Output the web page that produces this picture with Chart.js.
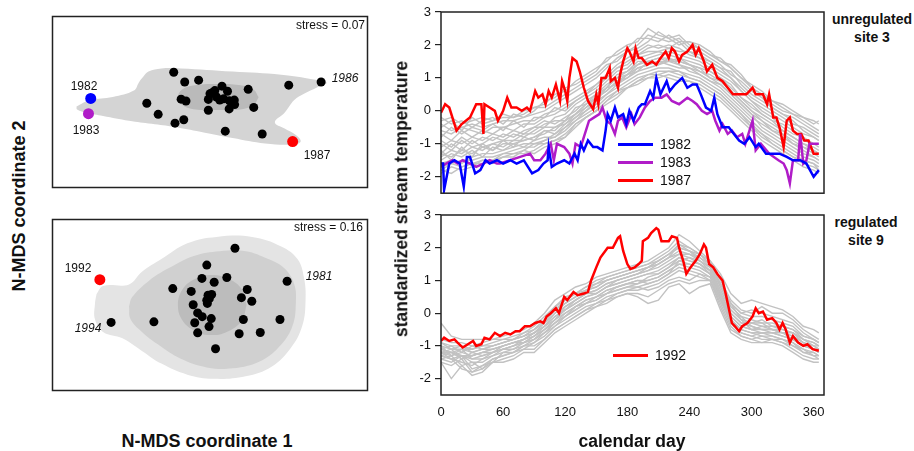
<!DOCTYPE html>
<html>
<head>
<meta charset="utf-8">
<script src="https://cdn.jsdelivr.net/npm/chart.js@4.4.1/dist/chart.umd.min.js"></script>
<style>
  body { margin: 0; background: #fff; }
  #fig { position: relative; width: 914px; height: 451px; overflow: hidden; font-family: "Liberation Sans", Arial, sans-serif; color: #111; }
  #fig canvas { position: absolute; }
  .t { position: absolute; white-space: nowrap; line-height: 1; transform: translate(-50%, -50%); }
  .b { font-weight: bold; }
  .v { transform: translate(-50%, -50%) rotate(-90deg); }
  .r { transform: translate(-100%, -50%); }
  .i { font-style: italic; }
  .leg { position: absolute; font-size: 14px; line-height: 1; }
  .leg div { position: absolute; white-space: nowrap; }
  .leg span { position: absolute; height: 3px; }
</style>
</head>
<body>
<div id="fig">
  <canvas id="mds3" width="326" height="182" style="left:47px;top:11px"></canvas>
  <canvas id="mds9" width="326" height="182" style="left:47px;top:214px"></canvas>
  <canvas id="site3" width="450" height="205" style="left:380px;top:0px"></canvas>
  <canvas id="site9" width="450" height="230" style="left:380px;top:203px"></canvas>

  <div class="t b v" style="left:19px;top:206px;font-size:18px">N-MDS coordinate 2</div>
  <div class="t b" style="left:207px;top:441px;font-size:18px">N-MDS coordinate 1</div>
  <div class="t b v" style="left:402px;top:199px;font-size:17.5px">standardized stream temperature</div>
  <div class="t b" style="left:632px;top:442px;font-size:17.5px">calendar day</div>

  <div class="t b" style="left:872px;top:19px;font-size:14px">unregulated</div>
  <div class="t b" style="left:872px;top:37px;font-size:14px">site 3</div>
  <div class="t b" style="left:866px;top:222px;font-size:14px">regulated</div>
  <div class="t b" style="left:866px;top:240px;font-size:14px">site 9</div>

  <div class="t r" style="left:365px;top:25px;font-size:12px">stress = 0.07</div>
  <div class="t r" style="left:363px;top:227px;font-size:12px">stress = 0.16</div>

  <div class="t" style="left:84px;top:86px;font-size:12px">1982</div>
  <div class="t" style="left:86px;top:130px;font-size:12px">1983</div>
  <div class="t" style="left:317px;top:155px;font-size:12px">1987</div>
  <div class="t i" style="left:345px;top:78px;font-size:12px">1986</div>
  <div class="t" style="left:78px;top:268px;font-size:12px">1992</div>
  <div class="t i" style="left:88px;top:328px;font-size:12px">1994</div>
  <div class="t i" style="left:319px;top:276px;font-size:12px">1981</div>

  <div class="leg" id="leg3" style="left:618px;top:144px"></div>
  <div class="leg" id="leg9" style="left:613px;top:355px"></div>
</div>

<script>
// ---- N-MDS ordination, site 3 (unregulated) ----
const site3Years = [
  [124.7, 122.3], [136, 112], [150.3, 114], [174.3, 107.7], [164.7, 101],
  [180, 102.3], [201.3, 104.3], [243, 108.7], [97, 89.7], [132.3, 94],
  [137.3, 92], [160.3, 93.7], [168.7, 96.3], [172, 93], [176, 94.3],
  [182, 92.3], [187, 93], [187.3, 88.3], [181.7, 83.7], [160.3, 82.3],
  [207, 85.3], [108.7, 78], [126, 68.7], [135, 72.3], [177.7, 60.3],
  [215.7, 57.3], [167, 103], [162, 99.7], [276.3, 112]
];
const site3Year1982 = [39.3, 94.7];
const site3Year1983 = [37, 78.7];
const site3Year1987 = [247, 49.3];
const site3OuterHull = [
  [24.7, 86.3], [38.7, 93], [62, 96.3], [83.7, 103], [88.7, 111.3], [93.7, 118],
  [98.7, 123], [112, 126.3], [132, 126.3], [185.3, 123], [235.3, 119.7], [268.7, 114.7],
  [282, 111.3], [272, 106.3], [258.7, 99.7], [248.7, 93], [238.7, 79.7], [228.7, 69.7],
  [238.7, 63], [250.3, 56.3], [255.3, 49.7], [248.7, 46.3], [218.7, 47.3], [185.3, 53],
  [152, 59.7], [125.3, 64.7], [102, 68], [78.7, 71.3], [52, 76.3], [35.3, 79.7],
  [25.3, 83], [24.7, 86.3]
];
const site3CoreHull = [
  [212, 96], [207, 104], [195, 108.5], [170, 110], [145, 108.5], [133, 104], [129, 96],
  [133, 88], [145, 83.5], [170, 82.5], [195, 83.5], [207, 88], [212, 96]
];

// ---- N-MDS ordination, site 9 (regulated) ----
const site9Years = [
  [187.7, 150.7], [158.7, 133], [153.7, 119], [166.3, 115], [179.3, 120],
  [123.7, 108.3], [142.7, 105.3], [160, 101.3], [163.7, 102], [158.7, 96],
  [144.7, 91.3], [200.3, 107.3], [194.3, 98.7], [205, 95], [149.3, 82.7],
  [154, 78.7], [163.3, 76.7], [146.3, 72.3], [161, 68.3], [196.3, 75.7],
  [234, 75.7], [104.3, 73.3], [149.3, 61.7], [192, 60.7], [213.7, 62],
  [167.7, 45], [159.3, 92.7], [161.3, 97.7], [60.3, 72.7], [241.3, 116]
];
const site9Year1992 = [48.7, 117.7];
const site9OuterHull = [
  [45.3, 102.7], [52, 111], [78.7, 112.7], [92, 126], [112, 139.3], [138.7, 156],
  [168.7, 162.7], [205.3, 162.7], [235.3, 152.7], [252, 139.3], [258.7, 119.3], [260.3, 96],
  [257, 69.3], [245.3, 46], [225.3, 26], [198.7, 16], [165.3, 13.3], [138.7, 17.7],
  [112, 29.3], [92, 42.7], [72, 56], [52, 62.7], [43.7, 76], [43.7, 92.7], [45.3, 102.7]
];
const site9MidHull = [
  [78.7, 89.3], [82, 99.3], [98.7, 116], [118.7, 129.3], [145.3, 142.7], [172, 147.7],
  [198.7, 147.7], [222, 139.3], [238.7, 129.3], [248.7, 112.7], [250.3, 92.7], [247, 69.3],
  [235.3, 49.3], [215.3, 32.7], [185.3, 24.3], [158.7, 25.3], [132, 34.3], [108.7, 49.3],
  [92, 62.7], [80.3, 76], [78.7, 89.3]
];
const site9CoreHull = [
  [199.6, 91], [195, 107], [182, 118], [164, 122.7], [146, 118], [133.5, 107], [129, 91],
  [133.5, 75], [146, 64], [164, 59.3], [182, 64], [195, 75], [199.6, 91]
];

// ---- standardized stream temperature ----
const tempTicks = [-2, -1, 0, 1, 2, 3];
const dayTicks = [0, 60, 120, 180, 240, 300, 360];
const otherDays = [0, 10, 20, 30, 40, 50, 60, 70, 80, 90, 100, 110, 120, 130, 140, 150, 160, 170, 180,
  190, 200, 210, 220, 230, 240, 250, 260, 270, 280, 290, 300, 310, 320, 330, 340, 350, 360, 365];

const site3OtherYears = [
  [-1.8,-1.9,-1.7,-1.6,-1.6,-1.5,-1.4,-1.3,-1.3,-1.2,-1.0,-0.9,-0.7,-0.4,-0.2,0.0,0.3,0.5,0.7,0.9,1.0,1.0,1.1,1.0,0.9,0.8,0.6,0.4,0.1,-0.2,-0.5,-0.8,-1.0,-1.2,-1.4,-1.6,-1.7,-1.8],
  [-0.3,-0.2,-0.4,-0.3,-0.2,-0.3,-0.1,-0.2,0.0,0.1,0.2,0.5,0.6,0.9,1.1,1.3,1.5,1.8,2.0,2.1,2.5,2.3,2.2,2.3,2.0,1.9,1.7,1.6,1.3,1.0,0.8,0.6,0.3,0.1,-0.1,-0.2,-0.3,-0.4],
  [-1.4,-1.2,-1.3,-1.1,-1.2,-1.0,-1.1,-0.9,-0.9,-0.8,-0.7,-0.5,-0.4,-0.1,0.1,0.4,0.6,0.9,1.0,1.3,1.4,1.5,1.4,1.3,1.3,1.1,0.9,0.7,0.4,0.1,-0.2,-0.4,-0.6,-0.8,-1.0,-1.1,-1.3,-1.4],
  [-0.9,-1.1,-0.8,-1.0,-0.8,-0.9,-0.7,-0.8,-0.6,-0.5,-0.5,-0.2,-0.1,0.2,0.4,0.6,0.9,1.2,1.3,1.6,1.7,1.8,1.7,1.6,1.5,1.4,1.2,1.0,0.8,0.4,0.1,-0.1,-0.3,-0.4,-0.6,-0.9,-1.0,-1.1],
  [-0.6,-0.7,-0.5,-0.6,-0.7,-0.5,-0.5,-0.4,-0.3,-0.3,-0.1,0.0,0.2,0.4,0.6,0.8,1.1,1.4,1.6,1.8,2.0,1.9,2.0,1.9,1.7,1.6,1.4,1.2,1.0,0.7,0.4,0.2,0.0,-0.2,-0.4,-0.5,-0.7,-0.8],
  [-1.6,-1.5,-1.6,-1.4,-1.3,-1.3,-1.2,-1.1,-1.0,-1.0,-0.9,-0.7,-0.5,-0.3,0.0,0.2,0.5,0.7,0.9,1.1,1.2,1.3,1.3,1.2,1.1,1.0,0.8,0.6,0.3,0.0,-0.3,-0.6,-0.8,-1.0,-1.2,-1.4,-1.5,-1.6],
  [-1.1,-0.9,-1.0,-0.8,-0.9,-0.7,-0.8,-0.6,-0.7,-0.5,-0.3,-0.4,-0.2,0.0,0.3,0.5,0.8,1.0,1.2,1.4,1.6,1.7,1.8,1.7,1.6,1.5,1.3,1.1,0.9,0.6,0.3,0.0,-0.2,-0.5,-0.7,-0.8,-1.0,-1.0],
  [-1.3,-1.4,-1.2,-1.3,-1.1,-1.2,-1.0,-1.0,-0.9,-0.8,-0.6,-0.6,-0.3,-0.1,0.2,0.4,0.7,1.0,1.1,1.4,1.5,1.6,1.6,1.5,1.4,1.2,1.1,0.9,0.6,0.3,0.0,-0.3,-0.5,-0.7,-0.9,-1.1,-1.2,-1.3],
  [-0.4,-0.6,-0.5,-0.4,-0.5,-0.4,-0.3,-0.3,-0.2,-0.1,0.0,0.2,0.4,0.6,0.8,1.0,1.3,1.6,1.8,2.0,2.3,2.2,2.1,2.2,1.9,1.8,1.6,1.4,1.1,0.9,0.6,0.4,0.1,-0.1,-0.2,-0.4,-0.6,-0.7],
  [-1.7,-1.6,-1.5,-1.5,-1.4,-1.4,-1.3,-1.2,-1.1,-1.1,-0.9,-0.8,-0.6,-0.3,-0.1,0.1,0.4,0.6,0.8,1.0,1.1,1.2,1.2,1.1,1.0,0.9,0.7,0.5,0.2,-0.1,-0.4,-0.7,-0.9,-1.1,-1.3,-1.5,-1.6,-1.7],
  [-1.2,-1.5,-1.1,-1.4,-1.0,-1.2,-0.9,-1.1,-0.8,-0.9,-0.6,-0.7,-0.4,-0.2,0.1,0.3,0.7,0.8,1.1,1.2,1.5,1.4,1.6,1.4,1.3,1.2,1.0,0.8,0.5,0.2,-0.1,-0.3,-0.6,-0.7,-1.0,-1.2,-1.4,-1.5],
  [-0.8,-0.5,-0.7,-0.5,-0.6,-0.4,-0.6,-0.3,-0.5,-0.2,-0.2,0.1,0.0,0.3,0.5,0.8,1.0,1.3,1.5,1.7,1.9,2.0,1.9,2.1,1.8,1.7,1.5,1.3,1.2,0.8,0.5,0.3,0.1,-0.1,-0.3,-0.6,-0.8,-0.9],
  [-1.9,-1.7,-1.8,-1.7,-1.5,-1.6,-1.4,-1.4,-1.2,-1.3,-1.1,-1.0,-0.8,-0.5,-0.2,0.0,0.2,0.4,0.7,0.8,1.0,1.1,1.0,0.9,0.9,0.7,0.5,0.3,0.0,-0.3,-0.6,-0.9,-1.1,-1.3,-1.5,-1.7,-1.8,-1.9],
  [-0.2,-0.4,-0.3,-0.5,-0.3,-0.2,-0.4,-0.1,-0.2,0.0,0.3,0.4,0.7,0.8,1.0,1.2,1.6,1.7,1.9,2.2,2.2,2.1,2.3,2.1,2.1,2.0,1.8,1.5,1.4,1.1,0.7,0.5,0.3,0.2,0.0,-0.2,-0.4,-0.3],
  [-1.0,-1.2,-0.9,-1.1,-1.0,-0.8,-0.9,-0.7,-0.8,-0.6,-0.4,-0.3,-0.3,0.1,0.2,0.5,0.7,1.1,1.2,1.5,1.5,1.6,1.5,1.5,1.4,1.3,1.0,0.9,0.6,0.3,0.0,-0.2,-0.4,-0.6,-0.8,-1.0,-1.1,-1.2],
  [-1.5,-1.3,-1.4,-1.2,-1.4,-1.1,-1.2,-1.0,-1.1,-0.9,-0.8,-0.8,-0.5,-0.2,0.0,0.3,0.5,0.8,1.0,1.2,1.3,1.4,1.5,1.4,1.2,1.1,0.9,0.8,0.5,0.2,-0.1,-0.5,-0.7,-0.9,-1.1,-1.3,-1.4,-1.5],
  [-0.7,-0.9,-0.6,-0.8,-0.6,-0.7,-0.5,-0.6,-0.4,-0.4,-0.2,-0.1,0.1,0.3,0.5,0.7,1.0,1.3,1.4,1.7,1.8,1.8,1.9,1.8,1.8,1.6,1.5,1.3,1.0,0.6,0.3,0.1,-0.1,-0.3,-0.5,-0.7,-0.8,-0.9],
  [-1.8,-1.6,-1.7,-1.6,-1.5,-1.5,-1.3,-1.3,-1.2,-1.0,-1.0,-0.9,-0.8,-0.4,-0.2,0.0,0.3,0.6,0.7,0.9,1.1,1.1,1.2,1.2,1.0,0.9,0.7,0.5,0.2,-0.1,-0.5,-0.7,-1.0,-1.2,-1.4,-1.5,-1.6,-1.8],
  [-0.5,-0.3,-0.6,-0.2,-0.4,-0.3,-0.2,-0.2,-0.1,0.1,0.1,0.3,0.5,0.7,0.9,1.1,1.4,1.5,1.8,1.9,2.1,2.4,2.2,2.0,2.1,1.9,1.7,1.5,1.3,1.0,0.7,0.5,0.2,0.0,-0.1,-0.3,-0.5,-0.6],
  [-1.3,-1.0,-1.2,-0.9,-1.1,-1.0,-0.9,-0.9,-0.7,-0.7,-0.5,-0.5,-0.3,-0.1,0.2,0.4,0.6,0.9,1.1,1.3,1.4,1.5,1.5,1.6,1.4,1.3,1.2,1.0,0.7,0.4,0.2,-0.1,-0.3,-0.6,-0.8,-1.0,-1.2,-1.3]
];

const site9OtherYears = [
  [-1.5,-2.0,-1.6,-1.9,-1.8,-1.5,-1.5,-1.4,-1.2,-1.2,-0.9,-0.6,-0.4,-0.2,0.0,0.2,0.3,0.5,0.6,0.5,0.3,0.4,0.8,0.9,0.6,0.8,0.9,0.1,-0.6,-0.8,-0.9,-0.9,-0.9,-1.0,-1.2,-1.4,-1.5,-1.5],
  [-0.3,-0.7,-0.8,-0.8,-0.8,-0.8,-0.7,-0.6,-0.5,-0.3,0.0,0.4,0.6,0.8,0.9,1.1,1.2,1.3,1.4,1.5,1.6,1.8,2.0,2.4,2.2,1.9,1.6,1.2,0.6,0.3,0.4,0.3,0.2,0.1,-0.1,-0.4,-0.5,-0.6],
  [-1.1,-1.2,-1.3,-1.3,-1.2,-1.1,-1.0,-0.9,-0.8,-0.6,-0.4,-0.1,0.1,0.3,0.5,0.6,0.8,0.9,1.0,1.1,1.2,1.3,1.5,1.7,1.6,1.5,1.2,0.6,0.0,-0.3,-0.4,-0.5,-0.5,-0.6,-0.7,-0.9,-1.0,-1.1],
  [-1.3,-1.4,-1.5,-1.6,-1.4,-1.3,-1.2,-1.1,-1.0,-0.8,-0.6,-0.3,-0.1,0.1,0.3,0.4,0.6,0.7,0.8,0.9,1.0,1.1,1.3,1.5,1.4,1.3,1.1,0.4,-0.2,-0.5,-0.6,-0.7,-0.7,-0.8,-0.9,-1.1,-1.2,-1.3],
  [-0.9,-1.0,-1.0,-1.1,-1.0,-0.9,-0.8,-0.8,-0.7,-0.5,-0.2,0.1,0.3,0.5,0.7,0.8,1.0,1.1,1.2,1.3,1.4,1.5,1.7,1.9,1.8,1.7,1.4,0.8,0.2,-0.1,-0.2,-0.3,-0.3,-0.4,-0.5,-0.7,-0.8,-0.9],
  [-1.2,-1.1,-1.4,-1.2,-1.3,-1.2,-1.1,-1.0,-0.9,-0.7,-0.5,-0.2,0.0,0.2,0.4,0.5,0.7,0.8,0.9,1.0,0.9,1.0,1.2,1.6,1.7,1.6,1.3,0.7,0.1,-0.2,-0.3,-0.2,-0.4,-0.5,-0.6,-0.8,-1.0,-1.0],
  [-1.0,-1.3,-1.1,-1.4,-1.3,-1.2,-1.0,-0.9,-0.8,-0.7,-0.5,-0.2,0.2,0.4,0.6,0.7,0.9,1.0,1.1,1.2,1.4,1.6,1.8,2.0,1.9,1.7,1.5,0.9,0.3,-0.2,-0.5,-0.6,-0.6,-0.7,-0.8,-1.0,-1.1,-1.2],
  [-1.4,-1.5,-1.3,-1.7,-1.6,-1.4,-1.3,-1.2,-1.1,-0.9,-0.7,-0.4,-0.2,0.0,0.2,0.3,0.5,0.6,0.7,0.8,0.7,0.8,1.0,1.1,1.0,1.2,1.1,0.5,-0.3,-0.6,-0.7,-0.8,-0.8,-0.9,-1.0,-1.2,-1.3,-1.4],
  [-1.2,-1.2,-1.1,-1.2,-1.1,-1.0,-0.9,-0.8,-0.7,-0.6,-0.3,0.0,0.2,0.4,0.6,0.7,0.9,1.0,1.1,1.2,1.3,1.4,1.6,1.8,1.7,1.5,1.3,0.6,-0.1,-0.4,-0.5,-0.4,-0.5,-0.5,-0.6,-0.9,-1.0,-1.1],
  [-1.1,-1.0,-1.2,-1.0,-1.1,-1.0,-0.9,-0.8,-0.6,-0.5,-0.3,0.1,0.4,0.6,0.8,0.9,1.1,1.2,1.3,1.4,1.5,1.7,1.9,2.2,2.0,1.8,1.5,0.9,0.3,0.0,0.1,0.0,-0.1,-0.2,-0.3,-0.6,-0.8,-0.9],
  [-1.4,-1.3,-1.6,-1.5,-1.7,-1.4,-1.3,-1.2,-1.0,-1.0,-0.8,-0.5,-0.3,-0.1,0.1,0.3,0.4,0.6,0.7,0.7,0.8,0.9,1.1,1.3,1.2,1.1,1.0,0.3,-0.4,-0.7,-0.8,-0.7,-0.8,-0.8,-1.0,-1.1,-1.3,-1.3],
  [-0.8,-0.9,-0.9,-1.0,-0.9,-0.8,-0.8,-0.7,-0.6,-0.4,-0.1,0.2,0.5,0.6,0.8,1.0,1.1,1.2,1.3,1.4,1.5,1.6,1.8,2.1,1.9,1.8,1.5,1.0,0.4,0.1,0.0,0.2,0.0,0.0,-0.2,-0.5,-0.7,-0.8],
  [-1.3,-1.2,-1.3,-1.5,-1.5,-1.3,-1.1,-1.1,-0.9,-0.8,-0.5,-0.3,0.0,0.2,0.4,0.5,0.6,0.8,0.9,0.9,1.1,1.2,1.4,1.6,1.5,1.4,1.2,0.5,-0.2,-0.5,-0.6,-0.6,-0.6,-0.7,-0.8,-1.0,-1.1,-1.2],
  [-1.0,-1.1,-1.0,-1.2,-1.1,-1.1,-1.0,-0.9,-0.8,-0.6,-0.4,-0.1,0.1,0.4,0.6,0.6,0.8,1.0,1.1,1.2,1.3,1.5,1.7,1.8,1.8,1.6,1.4,0.7,0.1,-0.2,-0.3,-0.4,-0.4,-0.4,-0.5,-0.8,-0.9,-1.0],
  [-1.5,-1.6,-1.4,-1.8,-1.7,-1.5,-1.4,-1.3,-1.1,-1.1,-0.8,-0.5,-0.3,-0.1,0.1,0.2,0.4,0.5,0.6,0.6,0.5,0.7,0.9,1.0,0.9,1.0,1.0,0.2,-0.5,-0.7,-0.8,-0.9,-0.8,-0.9,-1.1,-1.3,-1.4,-1.4],
  [-1.2,-1.3,-1.2,-1.3,-1.2,-1.1,-1.0,-0.9,-0.9,-0.7,-0.4,-0.2,0.1,0.3,0.5,0.6,0.8,0.9,1.0,1.1,1.2,1.2,1.4,1.7,1.6,1.5,1.3,0.6,0.0,-0.3,-0.3,-0.3,-0.5,-0.6,-0.6,-0.8,-0.9,-1.0],
  [-1.1,-1.2,-1.4,-1.3,-1.2,-1.2,-1.1,-1.0,-0.8,-0.6,-0.4,0.0,0.3,0.5,0.7,0.8,1.0,1.1,1.2,1.3,1.4,1.5,1.7,2.1,2.0,1.8,1.6,0.8,0.2,-0.1,-0.4,-0.5,-0.5,-0.6,-0.7,-0.9,-1.1,-1.1],
  [-1.3,-1.4,-1.7,-1.8,-1.6,-1.5,-1.2,-1.2,-1.0,-0.9,-0.6,-0.4,-0.1,0.1,0.3,0.4,0.6,0.7,0.8,0.8,0.9,1.0,1.2,1.4,1.3,1.2,1.0,0.4,-0.3,-0.6,-0.7,-0.6,-0.7,-0.8,-0.9,-1.2,-1.2,-1.3],
  [-0.9,-1.1,-1.1,-1.1,-1.0,-1.0,-0.9,-0.8,-0.7,-0.5,-0.2,0.2,0.4,0.6,0.7,0.9,1.0,1.1,1.2,1.3,1.4,1.6,1.8,2.0,1.9,1.6,1.4,0.9,0.3,0.0,-0.1,-0.1,-0.2,-0.3,-0.4,-0.7,-0.8,-0.9],
  [-1.2,-1.4,-1.3,-1.4,-1.4,-1.2,-1.1,-1.0,-0.9,-0.8,-0.6,-0.3,-0.1,0.2,0.3,0.5,0.7,0.8,0.9,1.0,1.0,1.1,1.3,1.5,1.5,1.4,1.2,0.5,-0.1,-0.4,-0.5,-0.5,-0.6,-0.6,-0.8,-1.0,-1.1,-1.2]
];

const days1982 = [0,2,3,8,13,18,22,25,28,33,38,43,47,54,60,67,73,80,88,94,99,103,104,107,112,119,124,129,132,135,
  138,142,147,151,156,159,161,164,168,171,176,179,182,186,191,194,197,202,205,208,212,218,221,226,233,238,243,247,251,256,
  261,264,267,272,278,283,288,293,298,304,307,314,321,327,334,340,347,353,360,365];
const temp1982 = [-1.6,-1.6,-2.4,-1.6,-1.5,-1.6,-2.3,-1.4,-1.4,-1.9,-1.8,-1.5,-1.6,-1.5,-1.6,-1.5,-1.6,-1.5,-1.9,-1.8,
  -1.6,-1.5,-1.1,-1.7,-1.6,-1.5,-1.6,-1.3,-1.5,-1.0,-1.2,-0.9,-1.1,-1.1,-1.2,-0.6,-0.1,-0.3,0.1,-0.2,
  -0.1,-0.4,0.0,-0.3,0.1,0.2,0.2,0.6,0.4,1.0,0.5,0.9,0.6,0.8,1.0,0.7,0.8,0.8,0.5,0.1,
  0.0,0.4,-0.1,-0.5,-0.5,-0.7,-0.9,-1.0,-0.8,-1.1,-1.0,-1.3,-1.3,-1.3,-1.4,-1.5,-1.5,-1.6,-2.0,-1.8];

const days1983 = [0,5,11,16,21,28,34,41,47,54,57,86,90,96,101,106,109,112,119,124,127,130,135,138,143,148,153,156,160,164,
  168,171,175,179,184,187,192,197,202,207,213,218,223,230,238,243,247,252,257,262,265,269,272,277,281,286,291,294,301,304,
  309,317,326,331,334,337,340,345,347,350,353,356,365];
const temp1983 = [-1.7,-1.6,-1.5,-1.6,-1.5,-1.6,-1.7,-1.6,-1.5,-1.6,-1.6,-1.3,-1.5,-1.5,-1.3,-1.0,-1.5,-1.0,-1.1,-1.3,
  -1.6,-1.0,-1.1,-0.8,-0.3,-0.2,-0.1,0.1,-0.3,-0.4,-0.7,-0.3,-0.2,-0.5,-0.1,-0.4,-0.2,0.1,0.3,0.4,
  0.4,0.5,0.3,0.2,0.4,0.3,0.2,0.0,-0.1,0.0,-0.3,-0.6,-0.4,-0.7,-0.6,-0.8,-0.7,-1.0,-0.3,-1.2,
  -1.0,-1.3,-1.5,-1.6,-1.8,-2.2,-1.5,-1.5,-0.7,-1.6,-1.5,-1.0,-1.0];

const days1987 = [0,4,8,15,20,24,28,34,39,41,42,47,52,55,60,64,68,73,78,83,86,91,94,98,101,104,107,111,115,117,
  120,122,124,127,131,134,138,142,147,150,152,155,159,163,164,168,171,173,176,180,182,186,188,191,194,199,204,208,212,217,
  220,223,226,230,233,238,243,246,249,254,257,262,267,272,277,282,288,295,298,301,304,311,315,317,321,324,327,331,334,337,
  340,344,348,351,355,360,365];
const temp1987 = [-0.06,0.2,0.1,-0.6,-0.4,-0.3,-0.2,0.2,0.2,-0.7,0.2,0.1,0.0,-0.3,0.0,0.4,0.1,0.1,0.0,0.1,
  0.0,0.6,0.4,0.5,0.2,0.6,0.4,0.8,0.3,0.9,0.6,0.3,1.0,1.6,1.5,1.2,0.7,0.3,0.05,0.5,
  0.2,1.0,1.0,1.3,0.9,1.0,0.7,1.1,1.5,1.9,1.8,1.5,1.9,1.6,1.6,1.4,1.5,1.4,1.6,1.8,
  1.6,1.9,1.8,1.5,1.7,1.8,2.0,1.7,1.9,1.5,1.2,1.4,1.0,0.9,0.7,0.5,0.5,0.5,0.6,0.7,
  0.5,0.5,0.2,0.5,-0.2,-0.2,-0.5,-1.1,-0.3,-0.2,-0.6,-0.7,-0.7,-0.9,-0.9,-1.3,-1.3];

const days1992 = [0,3,8,13,16,21,26,31,34,39,42,47,52,57,62,67,72,76,81,86,91,96,99,102,106,111,114,119,122,128,
  132,138,142,145,150,154,161,166,171,173,176,180,183,187,191,194,195,200,203,208,210,213,220,223,228,230,234,237,241,246,
  250,254,256,259,263,267,272,275,277,281,284,288,291,296,301,304,307,311,315,320,324,327,330,333,337,340,345,350,354,359,365];
const temp1992 = [-0.85,-0.75,-0.85,-0.8,-0.9,-1.05,-0.95,-0.85,-1.0,-0.95,-0.75,-0.8,-0.6,-0.7,-0.6,-0.65,-0.55,-0.55,-0.4,-0.4,
  -0.3,-0.25,-0.3,-0.1,0.0,0.15,0.0,0.5,0.4,0.65,0.55,0.6,0.65,1.0,1.4,1.7,2.0,2.0,2.3,2.35,
  1.9,1.5,1.35,1.4,1.5,1.6,2.2,2.3,2.45,2.6,2.55,2.2,2.2,2.35,2.3,2.0,1.6,1.2,1.4,1.6,
  1.8,2.1,2.0,1.5,1.4,1.2,1.0,0.6,0.3,-0.3,-0.4,-0.55,-0.4,-0.3,-0.1,0.15,0.0,0.05,-0.2,-0.15,
  -0.3,-0.5,-0.3,-0.5,-0.9,-0.7,-0.9,-1.0,-0.95,-1.1,-1.15];

const colours = { y1982: '#0000ff', y1983: '#b01cc8', y1987: '#ff0000', y1992: '#ff0000', other: '#c2c2c2' };

// draws the box round the plotting area
const framePlugin = {
  id: 'frame',
  afterDraw(chart) {
    const { ctx, chartArea: a } = chart;
    ctx.save();
    ctx.strokeStyle = '#222';
    ctx.lineWidth = 1.5;
    ctx.strokeRect(a.left, a.top, a.right - a.left, a.bottom - a.top);
    ctx.restore();
  }
};

Chart.defaults.font.family = '"Liberation Sans", Arial, sans-serif';
Chart.defaults.color = '#111';
Chart.defaults.animation = false;

function toPoints(pairs) {
  return pairs.map(p => ({ x: p[0], y: p[1] }));
}

function zip(xs, ys) {
  return ys.map((y, i) => ({ x: xs[i], y: y }));
}

function hull(pairs, colour, order) {
  return {
    data: toPoints(pairs),
    showLine: true,
    fill: 'shape',
    backgroundColor: colour,
    borderWidth: 0,
    pointRadius: 0,
    tension: 0.4,
    order: order,
  };
}

function dots(pairs, colour, radius) {
  return {
    data: toPoints(pairs),
    showLine: false,
    pointRadius: radius,
    pointBackgroundColor: colour,
    pointBorderWidth: 0,
    order: 0,
  };
}

function makeOrdination(canvasId, datasets) {
  new Chart(document.getElementById(canvasId), {
    type: 'line',
    data: { datasets: datasets },
    options: {
      responsive: false,
      layout: { padding: 1 },
      plugins: { legend: { display: false }, tooltip: { enabled: false } },
      scales: {
        x: { type: 'linear', min: 0, max: 324, display: false },
        y: { min: 1, max: 181, display: false },
      },
    },
    plugins: [framePlugin],
  });
}

makeOrdination('mds3', [
  hull(site3OuterHull, '#d4d4d4', 3),
  hull(site3CoreHull, '#bababa', 2),
  dots(site3Years, '#000', 4.5),
  dots([site3Year1982], colours.y1982, 5.5),
  dots([site3Year1983], colours.y1983, 5.5),
  dots([site3Year1987], colours.y1987, 5.5),
]);

makeOrdination('mds9', [
  hull(site9OuterHull, '#e4e4e4', 4),
  hull(site9MidHull, '#d0d0d0', 3),
  hull(site9CoreHull, '#bcbcbc', 2),
  dots(site9Years, '#000', 4.5),
  dots([site9Year1992], colours.y1992, 5.5),
]);

function makeSeries(canvasId, legendId, highlighted, showDays, bottomPad) {
  let datasets = highlighted.map(h => ({
    label: h.label,
    data: zip(h.days, h.values),
    borderColor: h.colour,
    borderWidth: 2.5,
    pointRadius: 0,
    tension: 0,
    order: 0,
  }));
  for (let other of highlighted.others) {
    datasets.push({
      label: '',
      data: zip(otherDays, other),
      borderColor: colours.other,
      borderWidth: 1.4,
      pointRadius: 0,
      tension: 0,
      order: 1,
    });
  }

  let xAxis = {
    type: 'linear',
    min: 0,
    max: 370,
    display: showDays,
    afterBuildTicks: s => { s.ticks = dayTicks.map(v => ({ value: v })); },
    grid: { display: false },
    border: { display: false },
    ticks: { font: { size: 13 }, padding: 2, maxRotation: 0 },
  };
  if (showDays) {
    xAxis.afterFit = s => { s.height = 30; };
  }

  new Chart(document.getElementById(canvasId), {
    type: 'line',
    data: { datasets: datasets },
    options: {
      responsive: false,
      layout: { padding: { left: 0, top: 12, right: 6, bottom: bottomPad } },
      plugins: { legend: { display: false }, tooltip: { enabled: false } },
      scales: {
        x: xAxis,
        y: {
          min: -2.5,
          max: 3,
          afterBuildTicks: s => { s.ticks = tempTicks.map(v => ({ value: v })); },
          afterFit: s => { s.width = 61; },
          grid: { drawOnChartArea: false, tickLength: 6, color: '#222', lineWidth: 1.2 },
          border: { display: false },
          ticks: { font: { size: 13 }, padding: 4 },
        },
      },
    },
    plugins: [framePlugin],
  });

  // legend inside the plot, built from the highlighted years
  let legend = document.getElementById(legendId);
  highlighted.forEach((h, i) => {
    let line = document.createElement('span');
    line.style.cssText = `left:0;top:${i * 18 - 1.5}px;width:35px;background:${h.colour}`;
    let text = document.createElement('div');
    text.textContent = h.label;
    text.style.cssText = `left:42px;top:${i * 18 - 7}px`;
    legend.appendChild(line);
    legend.appendChild(text);
  });
}

const site3Highlighted = [
  { label: '1982', days: days1982, values: temp1982, colour: colours.y1982 },
  { label: '1983', days: days1983, values: temp1983, colour: colours.y1983 },
  { label: '1987', days: days1987, values: temp1987, colour: colours.y1987 },
];
site3Highlighted.others = site3OtherYears;

const site9Highlighted = [
  { label: '1992', days: days1992, values: temp1992, colour: colours.y1992 },
];
site9Highlighted.others = site9OtherYears;

makeSeries('site3', 'leg3', site3Highlighted, false, 3);
makeSeries('site9', 'leg9', site9Highlighted, true, 8);
</script>
</body>
</html>
